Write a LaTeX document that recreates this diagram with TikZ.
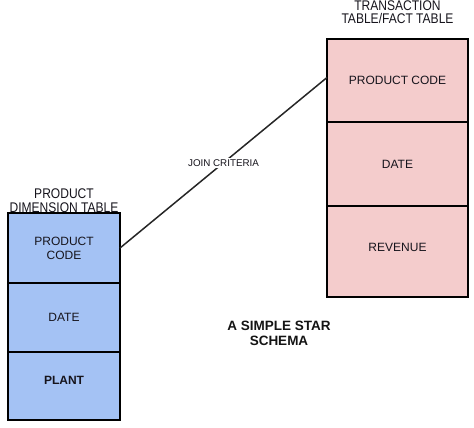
\documentclass[tikz,border=0pt]{standalone}
\usepackage{fontspec}
\setmainfont{Liberation Sans}
\newfontfamily\narrowsans[FakeStretch=0.86]{Liberation Sans}
\usetikzlibrary{positioning}
\definecolor{dimblue}{HTML}{A4C2F4}
\definecolor{factpink}{HTML}{F4CCCC}
\definecolor{celltext}{RGB}{22,20,28}
\tikzset{
    dimcell/.style={rectangle, draw=black, fill=dimblue, line width=1.5pt, outer sep=0pt, minimum width=112pt, align=center, font=\fontsize{12}{14}\selectfont, text=celltext},
    factcell/.style={rectangle, draw=black, fill=factpink, line width=1.5pt, outer sep=0pt, minimum width=141pt, align=center, font=\fontsize{12}{14}\selectfont, text=celltext},
    tabletitle/.style={align=center, font=\narrowsans\fontsize{14}{13.5}\selectfont, text=celltext, inner sep=0pt, text depth=0pt},
    joinline/.style={line width=1.5pt, black!85},
    joinlabel/.style={font=\fontsize{9.8}{11}\selectfont, fill=white, inner sep=1.5pt, text=celltext}
}
\begin{document}
\begin{tikzpicture}[x=1pt, y=-1pt, node distance=0pt]
\useasboundingbox (0,0) rectangle (474,428);

% dimension table
\node[dimcell, minimum height=70pt, anchor=north west] (dimcode) at (8,213) {PRODUCT\\CODE};
\node[dimcell, minimum height=69pt, below=of dimcode.south, anchor=north] (dimdate) {DATE};
\node[dimcell, minimum height=68pt, text depth=12pt, below=of dimdate.south, anchor=north] (dimplant) {\textbf{PLANT}};
\node[tabletitle, above=0.5pt of dimcode.north] (dimtitle) {PRODUCT\\DIMENSION TABLE};

% fact table
\node[factcell, minimum height=83pt, anchor=north west] (factcode) at (327,39) {PRODUCT CODE};
\node[factcell, minimum height=84pt, below=of factcode.south, anchor=north] (factdate) {DATE};
\node[factcell, minimum height=91pt, text depth=9pt, below=of factdate.south, anchor=north] (factrev) {REVENUE};
\node[tabletitle, above=15pt of factcode.north] (facttitle) {TRANSACTION\\TABLE/FACT TABLE};

% join
\draw[joinline] (dimcode.east) -- node[joinlabel] {JOIN CRITERIA} ([yshift=3pt]factcode.west);

\node[font=\fontsize{13.5}{15}\selectfont\bfseries, align=center, text=black!92] (caption) at (279,333.5) {A SIMPLE STAR\\SCHEMA};

\end{tikzpicture}
\end{document}
